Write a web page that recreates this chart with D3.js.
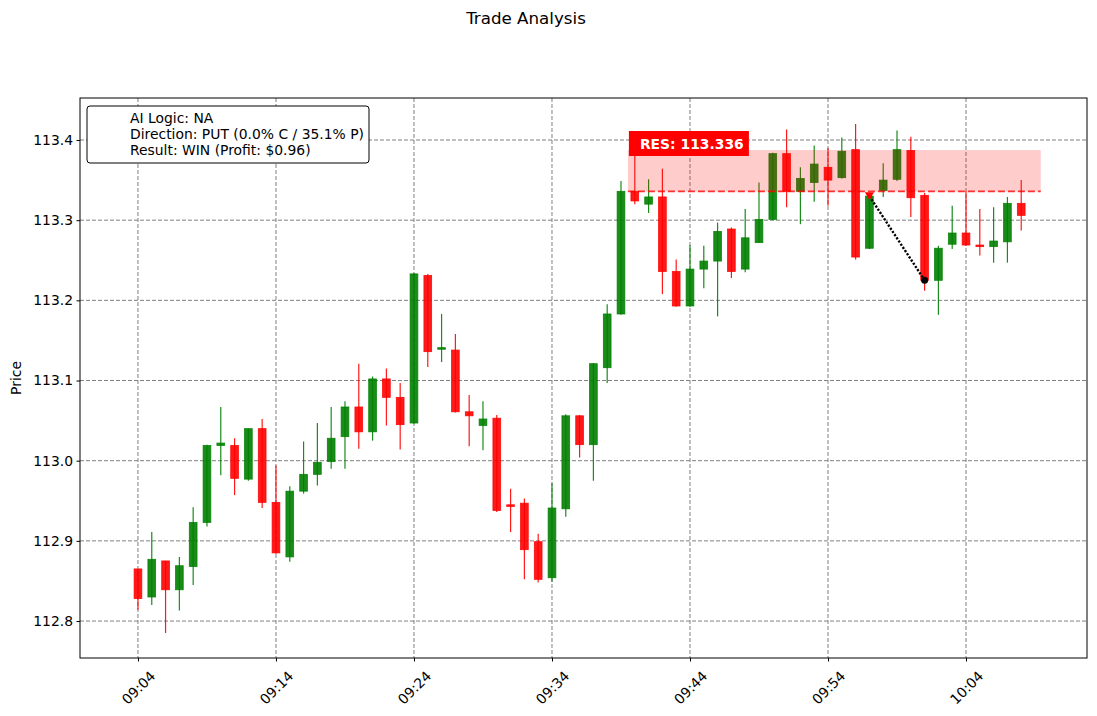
<!DOCTYPE html>
<html>
<head>
<meta charset="utf-8">
<script src="https://cdn.jsdelivr.net/npm/d3@7"></script>
<style>
  body { margin: 0; background: #fff; }
  text { font-family: "DejaVu Sans", sans-serif; }
</style>
</head>
<body>
<div id="container"></div>
<script>
// candle data, one per minute
const times = ["09:04","09:05","09:06","09:07","09:08","09:09","09:10","09:11","09:12","09:13",
  "09:14","09:15","09:16","09:17","09:18","09:19","09:20","09:21","09:22","09:23",
  "09:24","09:25","09:26","09:27","09:28","09:29","09:30","09:31","09:32","09:33",
  "09:34","09:35","09:36","09:37","09:38","09:39","09:40","09:41","09:42","09:43",
  "09:44","09:45","09:46","09:47","09:48","09:49","09:50","09:51","09:52","09:53",
  "09:54","09:55","09:56","09:57","09:58","09:59","10:00","10:01","10:02","10:03",
  "10:04","10:05","10:06","10:07","10:08"]
const opens = [112.865,112.830,112.875,112.839,112.868,112.923,113.019,113.019,112.977,113.040,
  112.948,112.880,112.962,112.983,112.999,113.030,113.067,113.036,113.102,113.079,
  113.047,113.231,113.139,113.138,113.061,113.044,113.053,112.945,112.947,112.899,
  112.854,112.940,113.056,113.020,113.116,113.183,113.336,113.320,113.329,113.236,
  113.193,113.239,113.249,113.289,113.239,113.272,113.301,113.383,113.336,113.347,
  113.366,113.353,113.388,113.265,113.337,113.351,113.387,113.331,113.225,113.270,
  113.284,113.269,113.267,113.273,113.321]
const highs = [112.865,112.911,112.875,112.880,112.942,113.020,113.067,113.028,113.040,113.052,
  112.994,112.968,113.024,113.047,113.067,113.074,113.121,113.105,113.115,113.097,
  113.234,113.233,113.183,113.158,113.082,113.074,113.057,112.965,112.953,112.909,
  112.972,113.058,113.057,113.122,113.195,113.349,113.392,113.351,113.364,113.251,
  113.269,113.268,113.297,113.291,113.314,113.347,113.384,113.413,113.366,113.393,
  113.390,113.403,113.420,113.331,113.371,113.412,113.404,113.334,113.268,113.318,
  113.336,113.314,113.316,113.329,113.350]
const lows = [112.814,112.820,112.785,112.813,112.845,112.918,112.982,112.957,112.975,112.941,
  112.884,112.874,112.959,112.969,112.990,112.990,113.015,113.025,113.044,113.014,
  113.046,113.117,113.123,113.060,113.018,113.013,112.936,112.911,112.852,112.848,
  112.849,112.930,113.004,112.975,113.097,113.182,113.320,113.309,113.208,113.192,
  113.192,113.215,113.180,113.228,113.235,113.272,113.300,113.316,113.295,113.323,
  113.318,113.352,113.251,113.264,113.329,113.349,113.304,113.212,113.182,113.264,
  113.268,113.256,113.247,113.247,113.287]
const closes = [112.828,112.877,112.839,112.869,112.923,113.019,113.022,112.978,113.040,112.948,
  112.885,112.962,112.983,112.998,113.028,113.067,113.036,113.102,113.079,113.045,
  113.233,113.136,113.141,113.061,113.056,113.052,112.938,112.943,112.889,112.852,
  112.941,113.056,113.020,113.121,113.183,113.336,113.324,113.329,113.236,113.193,
  113.239,113.249,113.286,113.236,113.278,113.301,113.383,113.336,113.352,113.370,
  113.350,113.386,113.254,113.330,113.350,113.388,113.328,113.225,113.265,113.284,
  113.269,113.267,113.274,113.321,113.306]

const xTicks = ["09:04","09:14","09:24","09:34","09:44","09:54","10:04"]
const yTicks = [112.8, 112.9, 113.0, 113.1, 113.2, 113.3, 113.4]

// resistance zone + trade
const resLevel = 113.336
const zoneTop = 113.3875
const zoneStart = "09:39:30", zoneEnd = "10:09:25"
const entry = { time: "09:57", price: 113.330 }
const exit = { time: "10:01", price: 113.225 }
const infoLines = ["AI Logic: NA", "Direction: PUT (0.0% C / 35.1% P)", "Result: WIN (Profit: $0.96)"]

const width = 1097, height = 716
const margin = { left: 80, right: 10, top: 98, bottom: 58 }
const fs = "13.9px"

const parseT = s => {
  const p = s.split(":").map(Number)
  return new Date(2024, 0, 1, p[0], p[1], p[2] || 0)
}
const data = times.map((t, i) => ({ t: parseT(t), o: opens[i], h: highs[i], l: lows[i], c: closes[i] }))

const svg = d3.select("#container").append("svg")
  .attr("width", width)
  .attr("height", height)

const t0 = data[0].t
const xScale = d3.scaleTime()
  .domain([d3.timeSecond.offset(t0, -252), d3.timeSecond.offset(t0, 4126)])
  .range([margin.left, width - margin.right])

const yScale = d3.scaleLinear()
  .domain([112.7539, 113.4524])
  .range([height - margin.bottom, margin.top])

const minW = xScale(d3.timeMinute.offset(t0, 1)) - xScale(t0)
const bodyW = minW * 0.56

/* GRID */
const grid = svg.append("g")
grid.selectAll("line.gy").data(yTicks).join("line")
  .attr("x1", margin.left).attr("x2", width - margin.right)
  .attr("y1", d => yScale(d)).attr("y2", d => yScale(d))
  .attr("stroke", "#808080").attr("stroke-width", 1).attr("stroke-dasharray", "4,2")
grid.selectAll("line.gx").data(xTicks).join("line")
  .attr("x1", d => xScale(parseT(d))).attr("x2", d => xScale(parseT(d)))
  .attr("y1", margin.top).attr("y2", height - margin.bottom)
  .attr("stroke", "#808080").attr("stroke-width", 1).attr("stroke-dasharray", "4,2")

/* CANDLES */
const col = d => d.c >= d.o ? "green" : "red"
svg.selectAll("line.wick").data(data).join("line")
  .attr("class", "wick")
  .attr("x1", d => xScale(d.t)).attr("x2", d => xScale(d.t))
  .attr("y1", d => yScale(d.h)).attr("y2", d => yScale(d.l))
  .attr("stroke", col).attr("stroke-opacity", 0.9).attr("stroke-width", 1.2)

svg.selectAll("rect.body").data(data).join("rect")
  .attr("class", "body")
  .attr("x", d => xScale(d.t) - bodyW / 2)
  .attr("y", d => yScale(Math.max(d.o, d.c)))
  .attr("width", bodyW)
  .attr("height", d => Math.max(Math.abs(yScale(d.o) - yScale(d.c)), 1.5))
  .attr("fill", col).attr("fill-opacity", 0.9)
  .attr("stroke", col).attr("stroke-opacity", 0.9).attr("stroke-width", 0.8)

/* RESISTANCE ZONE */
svg.append("rect")
  .attr("x", xScale(parseT(zoneStart)))
  .attr("y", yScale(zoneTop))
  .attr("width", xScale(parseT(zoneEnd)) - xScale(parseT(zoneStart)))
  .attr("height", yScale(resLevel) - yScale(zoneTop))
  .attr("fill", "red").attr("fill-opacity", 0.2)

svg.append("line")
  .attr("x1", xScale(parseT(zoneStart))).attr("x2", xScale(parseT(zoneEnd)))
  .attr("y1", yScale(resLevel)).attr("y2", yScale(resLevel))
  .attr("stroke", "red").attr("stroke-opacity", 0.8)
  .attr("stroke-width", 1.8).attr("stroke-dasharray", "7,3")

const resX = xScale(parseT(zoneStart))
svg.append("rect")
  .attr("x", resX + 1).attr("y", 131)
  .attr("width", 120).attr("height", 25)
  .attr("fill", "red")
svg.append("text")
  .attr("x", resX + 12).attr("y", 148.5)
  .style("font-size", fs).style("font-weight", "bold")
  .attr("fill", "white")
  .text("RES: " + resLevel.toFixed(3))

/* TRADE LINE */
svg.append("line")
  .attr("x1", xScale(parseT(entry.time))).attr("y1", yScale(entry.price))
  .attr("x2", xScale(parseT(exit.time))).attr("y2", yScale(exit.price))
  .attr("stroke", "black").attr("stroke-width", 2.4).attr("stroke-dasharray", "2.2,1.6")

const ex = xScale(parseT(entry.time)), ey = yScale(entry.price)
svg.append("path")
  .attr("d", `M${ex - 4.5},${ey - 4} L${ex + 4.5},${ey - 4} L${ex},${ey + 4} Z`)
  .attr("fill", "red")
svg.append("circle")
  .attr("cx", xScale(parseT(exit.time))).attr("cy", yScale(exit.price))
  .attr("r", 3.5).attr("fill", "black")

/* AXES */
svg.append("rect")
  .attr("x", margin.left).attr("y", margin.top)
  .attr("width", width - margin.left - margin.right)
  .attr("height", height - margin.top - margin.bottom)
  .attr("fill", "none").attr("stroke", "black").attr("stroke-width", 1)

const yAxis = svg.append("g")
  .attr("transform", `translate(${margin.left},0)`)
  .call(d3.axisLeft(yScale).tickValues(yTicks).tickFormat(d3.format(".1f")).tickSizeOuter(0).tickSize(3.5).tickPadding(3.5))
yAxis.select(".domain").remove()
yAxis.selectAll("text").style("font-size", fs).style("font-family", "DejaVu Sans").attr("fill", "black")

const xAxis = svg.append("g")
  .attr("transform", `translate(0,${height - margin.bottom})`)
  .call(d3.axisBottom(xScale).tickValues(xTicks.map(parseT)).tickFormat(d3.timeFormat("%H:%M")).tickSizeOuter(0).tickSize(3.5))
xAxis.select(".domain").remove()
xAxis.selectAll("text")
  .style("font-size", fs).style("font-family", "DejaVu Sans").attr("fill", "black")
  .attr("y", 0).attr("dy", null)
  .attr("text-anchor", "middle").attr("dominant-baseline", "central")
  .attr("transform", "translate(0,29.5) rotate(-45)")

/* LABELS */
svg.append("text")
  .attr("text-anchor", "middle")
  .attr("transform", `translate(21,${(margin.top + height - margin.bottom) / 2}) rotate(-90)`)
  .style("font-size", fs)
  .text("Price")

svg.append("text")
  .attr("text-anchor", "middle")
  .attr("x", 526).attr("y", 24)
  .style("font-size", "16.7px")
  .text("Trade Analysis")

/* INFO BOX */
svg.append("rect")
  .attr("x", 87).attr("y", 106).attr("width", 282).attr("height", 57)
  .attr("rx", 3).attr("fill", "white").attr("stroke", "black").attr("stroke-width", 1)
svg.append("g").selectAll("text").data(infoLines).join("text")
  .attr("x", 130).attr("y", (d, i) => 123 + i * 16)
  .style("font-size", fs)
  .text(d => d)
</script>
</body>
</html>
